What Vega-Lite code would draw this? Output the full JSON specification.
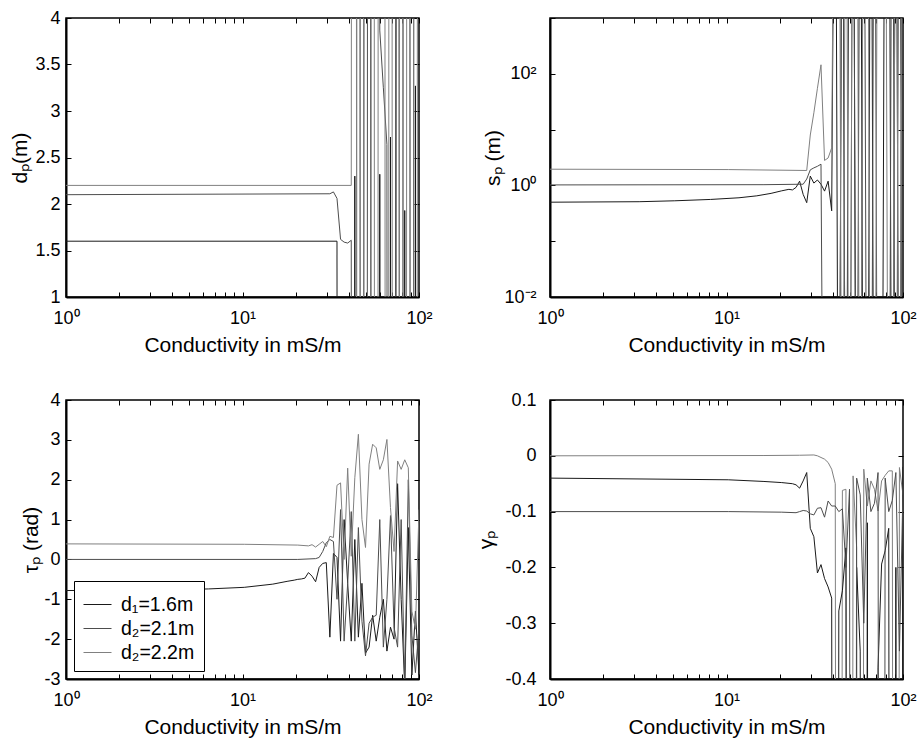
{
  "$schema": "https://vega.github.io/schema/vega-lite/v6.json",
  "background": "white",
  "padding": {"left": 9, "top": 8, "right": 5, "bottom": 5},
  "columns": 2,
  "bounds": "flush",
  "spacing": {"row": 103, "column": 131},
  "resolve": {"scale": {"color": "independent"}, "legend": {"color": "independent"}},
  "config": {
    "font": "Liberation Sans",
    "view": {"stroke": "black", "strokeWidth": 1.5},
    "axis": {
      "labelFont": "Liberation Sans", "titleFont": "Liberation Sans",
      "labelFontSize": 18, "titleFontSize": 21, "titleFontWeight": "normal",
      "labelColor": "black", "titleColor": "black",
      "domainColor": "black", "domainWidth": 2,
      "tickColor": "black", "tickSize": -5, "tickWidth": 1,
      "grid": false, "labelOverlap": false, "labelFlush": false, "labelBound": false
    }
  },
  "datasets": {
    "dp": [
      {"s":"d₁=1.6m","x":1,"y":1.6},{"s":"d₁=1.6m","x":34.305,"y":1.6},{"s":"d₁=1.6m","x":35.938,"y":-50},{"s":"d₁=1.6m","x":37.649,"y":-50},{"s":"d₁=1.6m","x":39.442,"y":-50},{"s":"d₁=1.6m","x":41.32,"y":-50},{"s":"d₁=1.6m","x":43.288,"y":2.3},{"s":"d₁=1.6m","x":45.349,"y":-50},{"s":"d₁=1.6m","x":47.508,"y":-50},{"s":"d₁=1.6m","x":49.77,"y":50},{"s":"d₁=1.6m","x":52.14,"y":50},{"s":"d₁=1.6m","x":54.623,"y":-50},{"s":"d₁=1.6m","x":57.224,"y":-50},{"s":"d₁=1.6m","x":59.948,"y":2.32},{"s":"d₁=1.6m","x":62.803,"y":-50},{"s":"d₁=1.6m","x":65.793,"y":-50},{"s":"d₁=1.6m","x":68.926,"y":2.72},{"s":"d₁=1.6m","x":72.208,"y":-50},{"s":"d₁=1.6m","x":75.646,"y":50},{"s":"d₁=1.6m","x":79.248,"y":-50},{"s":"d₁=1.6m","x":83.022,"y":1.93},{"s":"d₁=1.6m","x":86.975,"y":-50},{"s":"d₁=1.6m","x":91.116,"y":-50},{"s":"d₁=1.6m","x":95.455,"y":3.27},{"s":"d₁=1.6m","x":100,"y":-50},
      {"s":"d₂=2.1m","x":1,"y":2.1},{"s":"d₂=2.1m","x":31.258,"y":2.11},{"s":"d₂=2.1m","x":32.746,"y":2.13},{"s":"d₂=2.1m","x":34.305,"y":2.06},{"s":"d₂=2.1m","x":35.938,"y":1.62},{"s":"d₂=2.1m","x":37.649,"y":1.59},{"s":"d₂=2.1m","x":39.442,"y":1.58},{"s":"d₂=2.1m","x":41.32,"y":1.61},{"s":"d₂=2.1m","x":43.288,"y":-50},{"s":"d₂=2.1m","x":45.349,"y":50},{"s":"d₂=2.1m","x":47.508,"y":-50},{"s":"d₂=2.1m","x":49.77,"y":-50},{"s":"d₂=2.1m","x":52.14,"y":50},{"s":"d₂=2.1m","x":54.623,"y":50},{"s":"d₂=2.1m","x":57.224,"y":50},{"s":"d₂=2.1m","x":59.948,"y":3.87},{"s":"d₂=2.1m","x":62.803,"y":3.25},{"s":"d₂=2.1m","x":65.793,"y":2.64},{"s":"d₂=2.1m","x":68.926,"y":-50},{"s":"d₂=2.1m","x":72.208,"y":-50},{"s":"d₂=2.1m","x":75.646,"y":50},{"s":"d₂=2.1m","x":79.248,"y":-50},{"s":"d₂=2.1m","x":83.022,"y":50},{"s":"d₂=2.1m","x":86.975,"y":50},{"s":"d₂=2.1m","x":91.116,"y":-50},{"s":"d₂=2.1m","x":95.455,"y":50},{"s":"d₂=2.1m","x":100,"y":50},
      {"s":"d₂=2.2m","x":1,"y":2.2},{"s":"d₂=2.2m","x":41.32,"y":2.2},{"s":"d₂=2.2m","x":43.288,"y":50},{"s":"d₂=2.2m","x":45.349,"y":-50},{"s":"d₂=2.2m","x":47.508,"y":50},{"s":"d₂=2.2m","x":49.77,"y":-50},{"s":"d₂=2.2m","x":52.14,"y":-50},{"s":"d₂=2.2m","x":54.623,"y":50},{"s":"d₂=2.2m","x":57.224,"y":-50},{"s":"d₂=2.2m","x":59.948,"y":50},{"s":"d₂=2.2m","x":62.803,"y":50},{"s":"d₂=2.2m","x":65.793,"y":-50},{"s":"d₂=2.2m","x":68.926,"y":50},{"s":"d₂=2.2m","x":72.208,"y":-50},{"s":"d₂=2.2m","x":75.646,"y":-50},{"s":"d₂=2.2m","x":79.248,"y":50},{"s":"d₂=2.2m","x":83.022,"y":-50},{"s":"d₂=2.2m","x":86.975,"y":50},{"s":"d₂=2.2m","x":91.116,"y":-50},{"s":"d₂=2.2m","x":95.455,"y":-50},{"s":"d₂=2.2m","x":100,"y":50}
    ],
    "sp": [
      {"s":"d₁=1.6m","x":1,"y":0.5},{"s":"d₁=1.6m","x":3.199,"y":0.51},{"s":"d₁=1.6m","x":5.095,"y":0.53},{"s":"d₁=1.6m","x":8.111,"y":0.56},{"s":"d₁=1.6m","x":11.77,"y":0.6},{"s":"d₁=1.6m","x":14.85,"y":0.65},{"s":"d₁=1.6m","x":17.887,"y":0.72},{"s":"d₁=1.6m","x":20.566,"y":0.8},{"s":"d₁=1.6m","x":22.571,"y":0.85},{"s":"d₁=1.6m","x":23.646,"y":0.83},{"s":"d₁=1.6m","x":24.772,"y":0.92},{"s":"d₁=1.6m","x":25.951,"y":1.19},{"s":"d₁=1.6m","x":27.187,"y":0.69},{"s":"d₁=1.6m","x":28.481,"y":0.49},{"s":"d₁=1.6m","x":29.837,"y":1.47},{"s":"d₁=1.6m","x":31.258,"y":1.1},{"s":"d₁=1.6m","x":32.746,"y":1.25},{"s":"d₁=1.6m","x":34.305,"y":1.05},{"s":"d₁=1.6m","x":35.938,"y":0.79},{"s":"d₁=1.6m","x":37.649,"y":1.19},{"s":"d₁=1.6m","x":39.442,"y":0.35},{"s":"d₁=1.6m","x":41.32,"y":1e9},{"s":"d₁=1.6m","x":43.288,"y":1e-9},{"s":"d₁=1.6m","x":45.349,"y":1e9},{"s":"d₁=1.6m","x":47.508,"y":1e-9},{"s":"d₁=1.6m","x":49.77,"y":1e9},{"s":"d₁=1.6m","x":52.14,"y":1e9},{"s":"d₁=1.6m","x":54.623,"y":1e-9},{"s":"d₁=1.6m","x":57.224,"y":1e9},{"s":"d₁=1.6m","x":59.948,"y":1e-9},{"s":"d₁=1.6m","x":62.803,"y":1e-9},{"s":"d₁=1.6m","x":65.793,"y":1e9},{"s":"d₁=1.6m","x":68.926,"y":1e-9},{"s":"d₁=1.6m","x":72.208,"y":1e-9},{"s":"d₁=1.6m","x":75.646,"y":1e-9},{"s":"d₁=1.6m","x":79.248,"y":1e9},{"s":"d₁=1.6m","x":83.022,"y":1e9},{"s":"d₁=1.6m","x":86.975,"y":1e-9},{"s":"d₁=1.6m","x":91.116,"y":1e9},{"s":"d₁=1.6m","x":95.455,"y":1e-9},{"s":"d₁=1.6m","x":100,"y":1e9},
      {"s":"d₂=2.1m","x":1,"y":1.02},{"s":"d₂=2.1m","x":16.298,"y":1.03},{"s":"d₂=2.1m","x":27.187,"y":1.05},{"s":"d₂=2.1m","x":28.481,"y":1.3},{"s":"d₂=2.1m","x":29.837,"y":1.9},{"s":"d₂=2.1m","x":31.258,"y":2.06},{"s":"d₂=2.1m","x":32.746,"y":2.2},{"s":"d₂=2.1m","x":34.305,"y":2.4},{"s":"d₂=2.1m","x":35.938,"y":1e-9},{"s":"d₂=2.1m","x":43.288,"y":1e-9},{"s":"d₂=2.1m","x":45.349,"y":1e9},{"s":"d₂=2.1m","x":47.508,"y":1e-9},{"s":"d₂=2.1m","x":49.77,"y":1e-9},{"s":"d₂=2.1m","x":52.14,"y":1e9},{"s":"d₂=2.1m","x":54.623,"y":1e-9},{"s":"d₂=2.1m","x":57.224,"y":1e-9},{"s":"d₂=2.1m","x":59.948,"y":1e9},{"s":"d₂=2.1m","x":62.803,"y":1e-9},{"s":"d₂=2.1m","x":65.793,"y":1e-9},{"s":"d₂=2.1m","x":68.926,"y":1e9},{"s":"d₂=2.1m","x":72.208,"y":1e-9},{"s":"d₂=2.1m","x":83.022,"y":1e-9},{"s":"d₂=2.1m","x":86.975,"y":1e9},{"s":"d₂=2.1m","x":91.116,"y":1e-9},{"s":"d₂=2.1m","x":95.455,"y":1e9},{"s":"d₂=2.1m","x":100,"y":1e-9},
      {"s":"d₂=2.2m","x":1,"y":1.95},{"s":"d₂=2.2m","x":10.23,"y":1.92},{"s":"d₂=2.2m","x":28.481,"y":1.85},{"s":"d₂=2.2m","x":29.837,"y":8},{"s":"d₂=2.2m","x":31.258,"y":20},{"s":"d₂=2.2m","x":32.746,"y":55},{"s":"d₂=2.2m","x":34.305,"y":145},{"s":"d₂=2.2m","x":35.938,"y":2.8},{"s":"d₂=2.2m","x":37.649,"y":3.1},{"s":"d₂=2.2m","x":39.442,"y":4.7},{"s":"d₂=2.2m","x":41.32,"y":1e9},{"s":"d₂=2.2m","x":43.288,"y":1e9},{"s":"d₂=2.2m","x":45.349,"y":1e-9},{"s":"d₂=2.2m","x":47.508,"y":1e9},{"s":"d₂=2.2m","x":49.77,"y":1e-9},{"s":"d₂=2.2m","x":52.14,"y":1e9},{"s":"d₂=2.2m","x":54.623,"y":1e9},{"s":"d₂=2.2m","x":57.224,"y":1e-9},{"s":"d₂=2.2m","x":59.948,"y":1e9},{"s":"d₂=2.2m","x":62.803,"y":1e9},{"s":"d₂=2.2m","x":65.793,"y":1e-9},{"s":"d₂=2.2m","x":68.926,"y":1e-9},{"s":"d₂=2.2m","x":72.208,"y":1e9},{"s":"d₂=2.2m","x":79.248,"y":1e9},{"s":"d₂=2.2m","x":83.022,"y":1e-9},{"s":"d₂=2.2m","x":86.975,"y":1e-9},{"s":"d₂=2.2m","x":91.116,"y":1e9},{"s":"d₂=2.2m","x":95.455,"y":1e-9},{"s":"d₂=2.2m","x":100,"y":1e9}
    ],
    "tau": [
      {"s":"d₁=1.6m","x":1,"y":-0.78},{"s":"d₁=1.6m","x":3.199,"y":-0.77},{"s":"d₁=1.6m","x":6.428,"y":-0.74},{"s":"d₁=1.6m","x":10.23,"y":-0.7},{"s":"d₁=1.6m","x":14.85,"y":-0.62},{"s":"d₁=1.6m","x":17.887,"y":-0.55},{"s":"d₁=1.6m","x":19.631,"y":-0.52},{"s":"d₁=1.6m","x":20.566,"y":-0.5},{"s":"d₁=1.6m","x":21.545,"y":-0.49},{"s":"d₁=1.6m","x":22.571,"y":-0.47},{"s":"d₁=1.6m","x":23.646,"y":-0.33},{"s":"d₁=1.6m","x":24.772,"y":-0.42},{"s":"d₁=1.6m","x":25.951,"y":-0.56},{"s":"d₁=1.6m","x":27.187,"y":-0.2},{"s":"d₁=1.6m","x":28.481,"y":-0.1},{"s":"d₁=1.6m","x":29.837,"y":-0.08},{"s":"d₁=1.6m","x":31.258,"y":-1.95},{"s":"d₁=1.6m","x":32.746,"y":0.15},{"s":"d₁=1.6m","x":34.305,"y":0.05},{"s":"d₁=1.6m","x":35.938,"y":-2.05},{"s":"d₁=1.6m","x":37.649,"y":1.0},{"s":"d₁=1.6m","x":39.442,"y":-0.6},{"s":"d₁=1.6m","x":41.32,"y":-2.05},{"s":"d₁=1.6m","x":43.288,"y":0.5},{"s":"d₁=1.6m","x":45.349,"y":-1.95},{"s":"d₁=1.6m","x":47.508,"y":-0.6},{"s":"d₁=1.6m","x":49.77,"y":-2.35},{"s":"d₁=1.6m","x":52.14,"y":-2.2},{"s":"d₁=1.6m","x":54.623,"y":-1.4},{"s":"d₁=1.6m","x":57.224,"y":-2.05},{"s":"d₁=1.6m","x":59.948,"y":-1.45},{"s":"d₁=1.6m","x":62.803,"y":-1.0},{"s":"d₁=1.6m","x":65.793,"y":-2.3},{"s":"d₁=1.6m","x":68.926,"y":-1.7},{"s":"d₁=1.6m","x":72.208,"y":-2.0},{"s":"d₁=1.6m","x":75.646,"y":1.9},{"s":"d₁=1.6m","x":79.248,"y":-1.0},{"s":"d₁=1.6m","x":83.022,"y":-3.2},{"s":"d₁=1.6m","x":86.975,"y":0.8},{"s":"d₁=1.6m","x":91.116,"y":-2.9},{"s":"d₁=1.6m","x":95.455,"y":-1.3},{"s":"d₁=1.6m","x":100,"y":-2.9},
      {"s":"d₂=2.1m","x":1,"y":0.0},{"s":"d₂=2.1m","x":20.566,"y":0.0},{"s":"d₂=2.1m","x":25.951,"y":0.02},{"s":"d₂=2.1m","x":27.187,"y":0.05},{"s":"d₂=2.1m","x":28.481,"y":0.2},{"s":"d₂=2.1m","x":29.837,"y":0.42},{"s":"d₂=2.1m","x":31.258,"y":0.5},{"s":"d₂=2.1m","x":32.746,"y":0.45},{"s":"d₂=2.1m","x":34.305,"y":-1.0},{"s":"d₂=2.1m","x":35.938,"y":1.25},{"s":"d₂=2.1m","x":37.649,"y":-2.05},{"s":"d₂=2.1m","x":39.442,"y":-0.6},{"s":"d₂=2.1m","x":41.32,"y":1.2},{"s":"d₂=2.1m","x":43.288,"y":-2.05},{"s":"d₂=2.1m","x":45.349,"y":0.8},{"s":"d₂=2.1m","x":47.508,"y":-1.55},{"s":"d₂=2.1m","x":49.77,"y":-2.42},{"s":"d₂=2.1m","x":52.14,"y":-1.6},{"s":"d₂=2.1m","x":54.623,"y":-1.45},{"s":"d₂=2.1m","x":57.224,"y":-1.4},{"s":"d₂=2.1m","x":59.948,"y":1.0},{"s":"d₂=2.1m","x":62.803,"y":-2.2},{"s":"d₂=2.1m","x":65.793,"y":-1.0},{"s":"d₂=2.1m","x":68.926,"y":1.1},{"s":"d₂=2.1m","x":72.208,"y":-1.7},{"s":"d₂=2.1m","x":75.646,"y":-2.2},{"s":"d₂=2.1m","x":79.248,"y":1.0},{"s":"d₂=2.1m","x":83.022,"y":-3.2},{"s":"d₂=2.1m","x":86.975,"y":2.0},{"s":"d₂=2.1m","x":91.116,"y":-1.9},{"s":"d₂=2.1m","x":95.455,"y":-2.84},{"s":"d₂=2.1m","x":100,"y":-1.7},
      {"s":"d₂=2.2m","x":1,"y":0.39},{"s":"d₂=2.2m","x":10.23,"y":0.38},{"s":"d₂=2.2m","x":20.566,"y":0.36},{"s":"d₂=2.2m","x":23.646,"y":0.34},{"s":"d₂=2.2m","x":24.772,"y":0.37},{"s":"d₂=2.2m","x":25.951,"y":0.31},{"s":"d₂=2.2m","x":27.187,"y":0.38},{"s":"d₂=2.2m","x":28.481,"y":0.45},{"s":"d₂=2.2m","x":29.837,"y":0.32},{"s":"d₂=2.2m","x":31.258,"y":0.58},{"s":"d₂=2.2m","x":32.746,"y":0.55},{"s":"d₂=2.2m","x":34.305,"y":1.86},{"s":"d₂=2.2m","x":35.938,"y":1.92},{"s":"d₂=2.2m","x":37.649,"y":0.0},{"s":"d₂=2.2m","x":39.442,"y":2.29},{"s":"d₂=2.2m","x":41.32,"y":0.08},{"s":"d₂=2.2m","x":43.288,"y":2.05},{"s":"d₂=2.2m","x":45.349,"y":3.14},{"s":"d₂=2.2m","x":47.508,"y":1.0},{"s":"d₂=2.2m","x":49.77,"y":0.3},{"s":"d₂=2.2m","x":52.14,"y":2.39},{"s":"d₂=2.2m","x":54.623,"y":2.89},{"s":"d₂=2.2m","x":57.224,"y":2.8},{"s":"d₂=2.2m","x":59.948,"y":2.26},{"s":"d₂=2.2m","x":62.803,"y":2.5},{"s":"d₂=2.2m","x":65.793,"y":3.01},{"s":"d₂=2.2m","x":68.926,"y":1.3},{"s":"d₂=2.2m","x":72.208,"y":0.2},{"s":"d₂=2.2m","x":75.646,"y":2.47},{"s":"d₂=2.2m","x":79.248,"y":2.26},{"s":"d₂=2.2m","x":83.022,"y":2.5},{"s":"d₂=2.2m","x":86.975,"y":2.3},{"s":"d₂=2.2m","x":91.116,"y":-1.3},{"s":"d₂=2.2m","x":95.455,"y":-1.75},{"s":"d₂=2.2m","x":100,"y":1.25}
    ],
    "gamma": [
      {"s":"d₂=2.2m","x":1,"y":0.0},{"s":"d₂=2.2m","x":16.298,"y":0.0005},{"s":"d₂=2.2m","x":25.951,"y":0.001},{"s":"d₂=2.2m","x":31.258,"y":0.0015},{"s":"d₂=2.2m","x":32.746,"y":0.0},{"s":"d₂=2.2m","x":34.305,"y":-0.003},{"s":"d₂=2.2m","x":35.938,"y":-0.006},{"s":"d₂=2.2m","x":37.649,"y":-0.012},{"s":"d₂=2.2m","x":39.442,"y":-0.024},{"s":"d₂=2.2m","x":41.32,"y":-0.05},{"s":"d₂=2.2m","x":43.288,"y":-5},{"s":"d₂=2.2m","x":45.349,"y":-0.062},{"s":"d₂=2.2m","x":47.508,"y":-0.06},{"s":"d₂=2.2m","x":49.77,"y":-5},{"s":"d₂=2.2m","x":52.14,"y":-0.036},{"s":"d₂=2.2m","x":54.623,"y":-0.165},{"s":"d₂=2.2m","x":57.224,"y":-5},{"s":"d₂=2.2m","x":59.948,"y":-0.024},{"s":"d₂=2.2m","x":62.803,"y":-0.09},{"s":"d₂=2.2m","x":65.793,"y":-0.045},{"s":"d₂=2.2m","x":68.926,"y":-0.06},{"s":"d₂=2.2m","x":72.208,"y":-0.099},{"s":"d₂=2.2m","x":75.646,"y":-0.045},{"s":"d₂=2.2m","x":79.248,"y":-0.035},{"s":"d₂=2.2m","x":83.022,"y":-0.027},{"s":"d₂=2.2m","x":86.975,"y":-0.027},{"s":"d₂=2.2m","x":91.116,"y":-5},{"s":"d₂=2.2m","x":95.455,"y":-0.021},{"s":"d₂=2.2m","x":100,"y":-0.07},
      {"s":"d₁=1.6m","x":1,"y":-0.04},{"s":"d₁=1.6m","x":10.23,"y":-0.043},{"s":"d₁=1.6m","x":16.298,"y":-0.046},{"s":"d₁=1.6m","x":20.566,"y":-0.048},{"s":"d₁=1.6m","x":23.646,"y":-0.05},{"s":"d₁=1.6m","x":24.772,"y":-0.052},{"s":"d₁=1.6m","x":25.951,"y":-0.058},{"s":"d₁=1.6m","x":27.187,"y":-0.045},{"s":"d₁=1.6m","x":28.481,"y":-0.03},{"s":"d₁=1.6m","x":29.837,"y":-0.13},{"s":"d₁=1.6m","x":31.258,"y":-0.145},{"s":"d₁=1.6m","x":32.746,"y":-0.21},{"s":"d₁=1.6m","x":34.305,"y":-0.195},{"s":"d₁=1.6m","x":35.938,"y":-0.22},{"s":"d₁=1.6m","x":37.649,"y":-0.235},{"s":"d₁=1.6m","x":39.442,"y":-0.255},{"s":"d₁=1.6m","x":41.32,"y":-5},{"s":"d₁=1.6m","x":43.288,"y":-0.278},{"s":"d₁=1.6m","x":45.349,"y":-0.242},{"s":"d₁=1.6m","x":47.508,"y":-0.165},{"s":"d₁=1.6m","x":49.77,"y":-5},{"s":"d₁=1.6m","x":52.14,"y":-5},{"s":"d₁=1.6m","x":54.623,"y":-0.2},{"s":"d₁=1.6m","x":57.224,"y":-0.35},{"s":"d₁=1.6m","x":59.948,"y":-5},{"s":"d₁=1.6m","x":62.803,"y":-0.12},{"s":"d₁=1.6m","x":65.793,"y":-5},{"s":"d₁=1.6m","x":68.926,"y":-5},{"s":"d₁=1.6m","x":72.208,"y":-0.38},{"s":"d₁=1.6m","x":75.646,"y":-0.194},{"s":"d₁=1.6m","x":79.248,"y":-0.17},{"s":"d₁=1.6m","x":83.022,"y":-0.13},{"s":"d₁=1.6m","x":86.975,"y":-5},{"s":"d₁=1.6m","x":91.116,"y":-0.2},{"s":"d₁=1.6m","x":95.455,"y":-5},{"s":"d₁=1.6m","x":100,"y":-0.02},
      {"s":"d₂=2.1m","x":1,"y":-0.1},{"s":"d₂=2.1m","x":10.23,"y":-0.1},{"s":"d₂=2.1m","x":20.566,"y":-0.101},{"s":"d₂=2.1m","x":24.772,"y":-0.102},{"s":"d₂=2.1m","x":25.951,"y":-0.1},{"s":"d₂=2.1m","x":27.187,"y":-0.098},{"s":"d₂=2.1m","x":28.481,"y":-0.099},{"s":"d₂=2.1m","x":29.837,"y":-0.104},{"s":"d₂=2.1m","x":31.258,"y":-0.106},{"s":"d₂=2.1m","x":32.746,"y":-0.094},{"s":"d₂=2.1m","x":34.305,"y":-0.093},{"s":"d₂=2.1m","x":35.938,"y":-0.11},{"s":"d₂=2.1m","x":37.649,"y":-0.081},{"s":"d₂=2.1m","x":39.442,"y":-0.09},{"s":"d₂=2.1m","x":41.32,"y":-0.09},{"s":"d₂=2.1m","x":43.288,"y":-0.1},{"s":"d₂=2.1m","x":45.349,"y":-0.095},{"s":"d₂=2.1m","x":47.508,"y":-0.2},{"s":"d₂=2.1m","x":49.77,"y":-0.06},{"s":"d₂=2.1m","x":52.14,"y":-5},{"s":"d₂=2.1m","x":54.623,"y":-0.04},{"s":"d₂=2.1m","x":57.224,"y":-0.07},{"s":"d₂=2.1m","x":59.948,"y":-0.3},{"s":"d₂=2.1m","x":62.803,"y":-0.04},{"s":"d₂=2.1m","x":65.793,"y":-0.1},{"s":"d₂=2.1m","x":68.926,"y":-0.085},{"s":"d₂=2.1m","x":72.208,"y":-0.03},{"s":"d₂=2.1m","x":75.646,"y":-5},{"s":"d₂=2.1m","x":79.248,"y":-0.04},{"s":"d₂=2.1m","x":83.022,"y":-0.1},{"s":"d₂=2.1m","x":86.975,"y":-0.08},{"s":"d₂=2.1m","x":91.116,"y":-0.03},{"s":"d₂=2.1m","x":95.455,"y":-0.35},{"s":"d₂=2.1m","x":100,"y":-0.06}
    ]
  },
  "concat": [
    {
      "width": 353, "height": 279,
      "data": {"name": "dp"},
      "resolve": {"axis": {"x": "independent", "y": "independent"}},
      "layer": [
        {
          "mark": {"type": "line", "clip": true, "strokeWidth": 1},
          "encoding": {
            "x": {"field": "x", "type": "quantitative", "scale": {"type": "log", "domain": [1, 100], "nice": false},
                  "axis": {"orient": "bottom", "values": [1,2,3,4,5,6,7,8,9,10,20,30,40,50,60,70,80,90,100], "labelExpr": "datum.value==1?'10⁰':datum.value==10?'10¹':datum.value==100?'10²':''", "title": "Conductivity in mS/m", "labelPadding": 17, "titlePadding": 7}},
            "y": {"field": "y", "type": "quantitative", "scale": {"domain": [1, 4], "nice": false, "zero": false},
                  "axis": {"orient": "left", "values": [1,1.5,2,2.5,3,3.5,4], "labelExpr": "''+datum.value", "title": "dₚ(m)", "labelPadding": 11, "titlePadding": 4}},
            "color": {"field": "s", "type": "nominal", "scale": {"domain": ["d₁=1.6m","d₂=2.1m","d₂=2.2m"], "range": ["#1a1a1a","#4d4d4d","#808080"]}, "legend": null}
          }
        },
        {
          "mark": {"type": "line", "clip": true, "opacity": 0},
          "encoding": {
            "x": {"field": "x", "type": "quantitative", "axis": {"orient": "top", "values": [1,2,3,4,5,6,7,8,9,10,20,30,40,50,60,70,80,90,100], "labels": false, "title": null, "domain": false}},
            "y": {"field": "y", "type": "quantitative", "axis": {"orient": "right", "values": [1,1.5,2,2.5,3,3.5,4], "labels": false, "title": null, "domain": false}},
            "detail": {"field": "s"}
          }
        }
      ]
    },
    {
      "width": 353, "height": 279,
      "data": {"name": "sp"},
      "resolve": {"axis": {"x": "independent", "y": "independent"}},
      "layer": [
        {
          "mark": {"type": "line", "clip": true, "strokeWidth": 1},
          "encoding": {
            "x": {"field": "x", "type": "quantitative", "scale": {"type": "log", "domain": [1, 100], "nice": false},
                  "axis": {"orient": "bottom", "values": [1,2,3,4,5,6,7,8,9,10,20,30,40,50,60,70,80,90,100], "labelExpr": "datum.value==1?'10⁰':datum.value==10?'10¹':datum.value==100?'10²':''", "title": "Conductivity in mS/m", "labelPadding": 17, "titlePadding": 7}},
            "y": {"field": "y", "type": "quantitative", "scale": {"type": "log", "domain": [0.01, 1000], "nice": false},
                  "axis": {"orient": "left", "values": [0.01,0.1,1,10,100,1000], "labelExpr": "datum.value==0.01?'10⁻²':datum.value==1?'10⁰':datum.value==100?'10²':''", "title": "sₚ (m)", "labelPadding": 19, "titlePadding": 0}},
            "color": {"field": "s", "type": "nominal", "scale": {"domain": ["d₁=1.6m","d₂=2.1m","d₂=2.2m"], "range": ["#1a1a1a","#4d4d4d","#808080"]}, "legend": null}
          }
        },
        {
          "mark": {"type": "line", "clip": true, "opacity": 0},
          "encoding": {
            "x": {"field": "x", "type": "quantitative", "axis": {"orient": "top", "values": [1,2,3,4,5,6,7,8,9,10,20,30,40,50,60,70,80,90,100], "labels": false, "title": null, "domain": false}},
            "y": {"field": "y", "type": "quantitative", "axis": {"orient": "right", "values": [0.01,0.1,1,10,100,1000], "labels": false, "title": null, "domain": false}},
            "detail": {"field": "s"}
          }
        }
      ]
    },
    {
      "width": 353, "height": 279,
      "data": {"name": "tau"},
      "resolve": {"axis": {"x": "independent", "y": "independent"}},
      "layer": [
        {
          "mark": {"type": "line", "clip": true, "strokeWidth": 1},
          "encoding": {
            "x": {"field": "x", "type": "quantitative", "scale": {"type": "log", "domain": [1, 100], "nice": false},
                  "axis": {"orient": "bottom", "values": [1,2,3,4,5,6,7,8,9,10,20,30,40,50,60,70,80,90,100], "labelExpr": "datum.value==1?'10⁰':datum.value==10?'10¹':datum.value==100?'10²':''", "title": "Conductivity in mS/m", "labelPadding": 17, "titlePadding": 7}},
            "y": {"field": "y", "type": "quantitative", "scale": {"domain": [-3, 4], "nice": false, "zero": false},
                  "axis": {"orient": "left", "values": [-3,-2,-1,0,1,2,3,4], "labelExpr": "''+datum.value", "title": "τₚ (rad)", "labelPadding": 11, "titlePadding": 2}},
            "color": {"field": "s", "type": "nominal", "scale": {"domain": ["d₁=1.6m","d₂=2.1m","d₂=2.2m"], "range": ["#1a1a1a","#4d4d4d","#808080"]},
                      "legend": {"orient": "bottom-left", "title": null, "offset": 8, "symbolType": "stroke", "symbolSize": 784, "symbolStrokeWidth": 1, "labelFont": "Liberation Sans", "labelFontSize": 19.5, "labelColor": "black", "labelOffset": 9, "strokeColor": "black", "fillColor": "white", "padding": 9, "rowPadding": 0}}
          }
        },
        {
          "mark": {"type": "line", "clip": true, "opacity": 0},
          "encoding": {
            "x": {"field": "x", "type": "quantitative", "axis": {"orient": "top", "values": [1,2,3,4,5,6,7,8,9,10,20,30,40,50,60,70,80,90,100], "labels": false, "title": null, "domain": false}},
            "y": {"field": "y", "type": "quantitative", "axis": {"orient": "right", "values": [-3,-2,-1,0,1,2,3,4], "labels": false, "title": null, "domain": false}},
            "detail": {"field": "s"}
          }
        }
      ]
    },
    {
      "width": 353, "height": 279,
      "data": {"name": "gamma"},
      "resolve": {"axis": {"x": "independent", "y": "independent"}},
      "layer": [
        {
          "mark": {"type": "line", "clip": true, "strokeWidth": 1},
          "encoding": {
            "x": {"field": "x", "type": "quantitative", "scale": {"type": "log", "domain": [1, 100], "nice": false},
                  "axis": {"orient": "bottom", "values": [1,2,3,4,5,6,7,8,9,10,20,30,40,50,60,70,80,90,100], "labelExpr": "datum.value==1?'10⁰':datum.value==10?'10¹':datum.value==100?'10²':''", "title": "Conductivity in mS/m", "labelPadding": 17, "titlePadding": 7}},
            "y": {"field": "y", "type": "quantitative", "scale": {"domain": [-0.4, 0.1], "nice": false, "zero": false},
                  "axis": {"orient": "left", "values": [-0.4,-0.3,-0.2,-0.1,0,0.1], "labelExpr": "''+datum.value", "title": "γₚ", "labelPadding": 19, "titlePadding": 8}},
            "color": {"field": "s", "type": "nominal", "scale": {"domain": ["d₁=1.6m","d₂=2.1m","d₂=2.2m"], "range": ["#1a1a1a","#4d4d4d","#808080"]}, "legend": null}
          }
        },
        {
          "mark": {"type": "line", "clip": true, "opacity": 0},
          "encoding": {
            "x": {"field": "x", "type": "quantitative", "axis": {"orient": "top", "values": [1,2,3,4,5,6,7,8,9,10,20,30,40,50,60,70,80,90,100], "labels": false, "title": null, "domain": false}},
            "y": {"field": "y", "type": "quantitative", "axis": {"orient": "right", "values": [-0.4,-0.3,-0.2,-0.1,0,0.1], "labels": false, "title": null, "domain": false}},
            "detail": {"field": "s"}
          }
        }
      ]
    }
  ]
}
